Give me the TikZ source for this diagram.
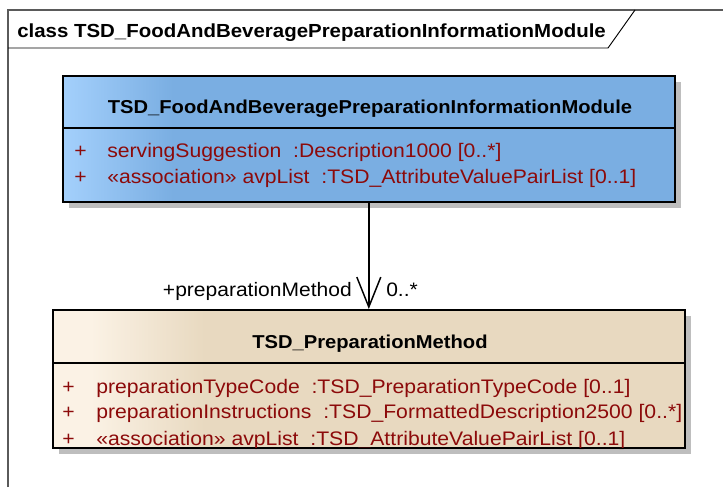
\documentclass[tikz,border=0pt]{standalone}
\usepackage{fontspec}
\setmainfont{Liberation Sans}
\newfontfamily\umlfont[FakeStretch=1.08]{Liberation Sans}
\usetikzlibrary{positioning,shadows,arrows.meta}

\definecolor{frameline}{RGB}{90,90,90}
\definecolor{attrred}{RGB}{140,10,10}
\definecolor{blueMain}{RGB}{122,174,226}
\definecolor{blueLight}{RGB}{164,208,252}
\definecolor{tanMain}{RGB}{232,217,192}
\definecolor{tanLight}{RGB}{251,242,229}
\definecolor{shadowgray}{RGB}{190,190,190}

\pgfdeclarehorizontalshading{blueclass}{100bp}{color(0bp)=(blueLight); color(25bp)=(blueLight); color(34bp)=(blueMain); color(100bp)=(blueMain)}
\pgfdeclarehorizontalshading{tanclass}{100bp}{color(0bp)=(tanLight); color(28bp)=(tanLight); color(37bp)=(tanMain); color(100bp)=(tanMain)}

\begin{document}
\begin{tikzpicture}[x=0.75pt, y=-0.75pt,
    classbox/.style={rectangle, draw=black, line width=1.2pt, inner sep=0pt,
        drop shadow={shadow xshift=4.5pt, shadow yshift=-4.5pt, fill=shadowgray, opacity=1}},
    classname/.style={font=\umlfont\fontsize{14}{17}\selectfont\bfseries, text=black},
    attr/.style={font=\umlfont\fontsize{14.7}{17}\selectfont, text=attrred, anchor=base west, inner sep=0pt},
    rolelabel/.style={font=\umlfont\fontsize{14.6}{17}\selectfont, text=black, anchor=base, inner sep=0pt}
]
\useasboundingbox (0,0) rectangle (723,487);

% frame and its tab
\draw[frameline, line width=0.8pt] (8,487) -- (8,10) -- (723,10);
\draw[black, line width=0.7pt] (8,48) -- (608,48) -- (635,10);
\node[font=\umlfont\fontsize{14.2}{17}\selectfont\bfseries, anchor=base west, inner sep=0pt] (frametitle) at (17,37) {class TSD\_FoodAndBeveragePreparationInformationModule};

% upper class
\node[classbox, shading=blueclass, minimum width=612*0.75pt, minimum height=126*0.75pt, anchor=north west] (module) at (62,75) {};
\draw[line width=1.2pt] (62,128) -- (674,128);
\node[classname, anchor=base] (moduleName) at (370,113) {TSD\_FoodAndBeveragePreparationInformationModule};
\node[attr] (modAttrA) at (74,157) {+};
\node[attr] (modAttrB) at (107,157) {servingSuggestion \ :Description1000 [0..*]};
\node[attr] (modAttrC) at (74,183) {+};
\node[attr] (modAttrD) at (107,183) {«association» avpList \ :TSD\_AttributeValuePairList [0..1]};

% lower class
\node[classbox, shading=tanclass, minimum width=632*0.75pt, minimum height=138*0.75pt, anchor=north west] (method) at (52,309) {};
\draw[line width=1.2pt] (52,363) -- (684,363);
\node[classname, anchor=base] (methodName) at (370,348) {TSD\_PreparationMethod};
\node[attr] (methAttrA) at (62,393) {+};
\node[attr] (methAttrB) at (96,393) {preparationTypeCode \ :TSD\_PreparationTypeCode [0..1]};
\node[attr] (methAttrC) at (62,418) {+};
\node[attr] (methAttrD) at (96,418) {preparationInstructions \ :TSD\_FormattedDescription2500 [0..*]};
\node[attr] (methAttrE) at (62,445) {+};
\node[attr] (methAttrF) at (96,445) {«association» avpList \ :TSD\_AttributeValuePairList [0..1]};
\draw[line width=1.2pt] (method.south west) -- (method.south east);

% association
\draw[line width=1.1pt, -{Straight Barb[length=22.5pt, width=18pt, line width=1.1pt]}] (module.south) -- (method.north);
\node[rolelabel, anchor=base east] (roleName) at (352,296) {+preparationMethod};
\node[rolelabel, anchor=base west] (roleMult) at (386,296) {0..*};
\end{tikzpicture}
\end{document}
